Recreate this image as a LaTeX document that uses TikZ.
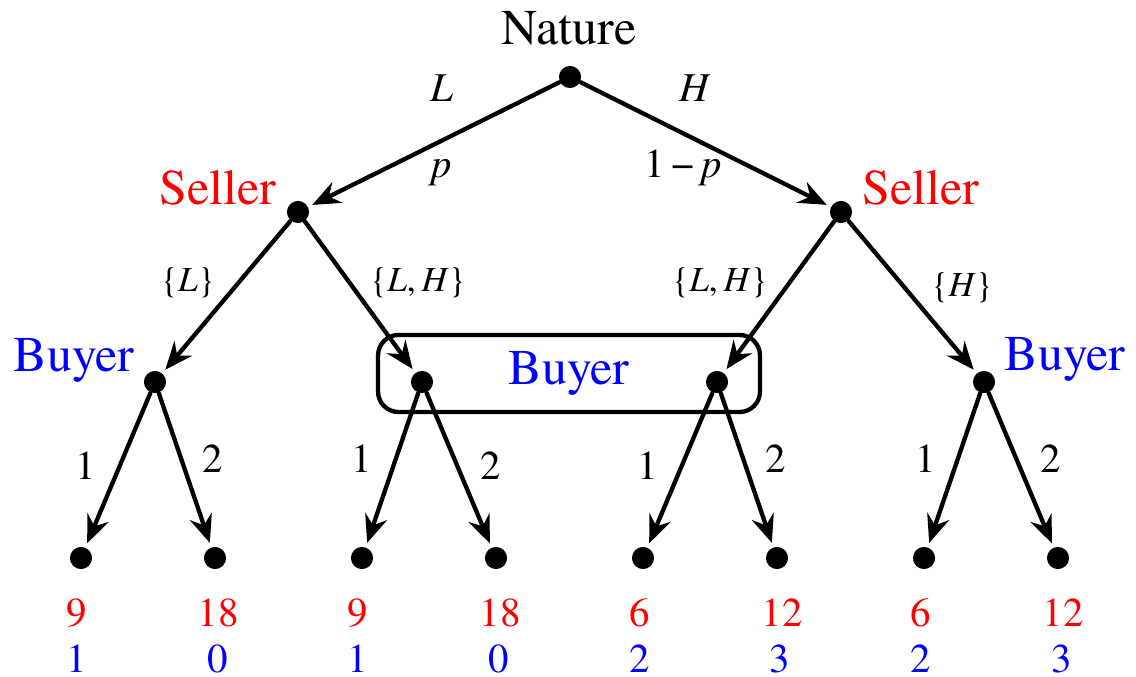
\documentclass[tikz,border=0pt]{standalone}
\usepackage{fontspec}
\setmainfont{texgyretermes}[Extension=.otf,UprightFont=*-regular,ItalicFont=*-italic,BoldFont=*-bold,BoldItalicFont=*-bolditalic]
\usetikzlibrary{arrows.meta}

\begin{document}
\begin{tikzpicture}[x=0.244pt,y=-0.244pt,>={Stealth[length=6.8pt,width=5.6pt,inset=2.3pt]},line cap=round,line join=round,
  dot/.style={circle,fill,inner sep=0pt,minimum size=5.4pt},
  move/.style={->,line width=1.05pt,shorten >=1pt},
  player/.style={anchor=base,font=\fontsize{12.2}{14}\selectfont},
  lab/.style={anchor=base,font=\fontsize{10}{12}\selectfont},
  act/.style={anchor=base,font=\fontsize{8.6}{10}\selectfont},
  payS/.style={anchor=base,text=red,font=\fontsize{10}{12}\selectfont},
  payB/.style={anchor=base,text=blue,font=\fontsize{10}{12}\selectfont}]
\useasboundingbox (0,0) rectangle (1136,677);
\node[dot] (nat) at (570,77) {};
\node[dot] (sL) at (298,212) {};
\node[dot] (sR) at (841,212) {};
\node[dot] (b1) at (155,382) {};
\node[dot] (b2) at (422,382) {};
\node[dot] (b3) at (717,382) {};
\node[dot] (b4) at (984,382) {};
\node[dot] (t1) at (81,558) {};
\node[dot] (t2) at (215,558) {};
\node[dot] (t3) at (362,558) {};
\node[dot] (t4) at (496,558) {};
\node[dot] (t5) at (643,558) {};
\node[dot] (t6) at (777,558) {};
\node[dot] (t7) at (924,558) {};
\node[dot] (t8) at (1058,558) {};
% information set
\node[draw,line width=1.05pt,rounded corners=5pt,minimum width=93.2pt,minimum height=18.8pt] (iset) at (569,373.5) {};
\draw[move] (nat) -- (sL);
\draw[move] (nat) -- (sR);
\draw[move] (sL) -- (b1);
\draw[move] (sL) -- (b2);
\draw[move] (sR) -- (b3);
\draw[move] (sR) -- (b4);
\draw[move] (b1) -- (t1);
\draw[move] (b1) -- (t2);
\draw[move] (b2) -- (t3);
\draw[move] (b2) -- (t4);
\draw[move] (b3) -- (t5);
\draw[move] (b3) -- (t6);
\draw[move] (b4) -- (t7);
\draw[move] (b4) -- (t8);
\node[player] (natL) at (569,45) {Nature};
\node[player,text=red] (sLL) at (218,205) {Seller};
\node[player,text=red] (sRL) at (921,205) {Seller};
\node[player,text=blue] (b1L) at (74,372) {Buyer};
\node[player,text=blue] (isetL) at (569,385) {Buyer};
\node[player,text=blue] (b4L) at (1065,371) {Buyer};
\node[lab] (aL) at (442,102) {\textit{L}};
\node[lab] (aH) at (695,102) {\textit{H}};
\node[lab] (pL) at (442,178) {\textit{p}};
\node[lab] (pH) at (683,178) {1\,−\,\textit{p}};
\node[act] (m1) at (188,292) {\{\textit{L}\}};
\node[act] (m2) at (418,292) {\{\textit{L},\,\textit{H}\}};
\node[act] (m3) at (720,292) {\{\textit{L},\,\textit{H}\}};
\node[act] (m4) at (962,297) {\{\textit{H}\}};
\node[lab] (c1) at (86,480) {1};
\node[lab] (c2) at (213,473) {2};
\node[lab] (c3) at (362,473) {1};
\node[lab] (c4) at (491,480) {2};
\node[lab] (c5) at (648,480) {1};
\node[lab] (c6) at (776,473) {2};
\node[lab] (c7) at (926,473) {1};
\node[lab] (c8) at (1051,473) {2};
% payoffs
\node[payS] (s1) at (77,627) {9};
\node[payS] (s2) at (218,627) {18};
\node[payS] (s3) at (358,627) {9};
\node[payS] (s4) at (500,627) {18};
\node[payS] (s5) at (640,627) {6};
\node[payS] (s6) at (782,627) {12};
\node[payS] (s7) at (921,627) {6};
\node[payS] (s8) at (1063,627) {12};
\node[payB] (u1) at (77,672) {1};
\node[payB] (u2) at (218,672) {0};
\node[payB] (u3) at (358,672) {1};
\node[payB] (u4) at (499,672) {0};
\node[payB] (u5) at (640,672) {2};
\node[payB] (u6) at (780,672) {3};
\node[payB] (u7) at (921,672) {2};
\node[payB] (u8) at (1062,672) {3};
\end{tikzpicture}
\end{document}
